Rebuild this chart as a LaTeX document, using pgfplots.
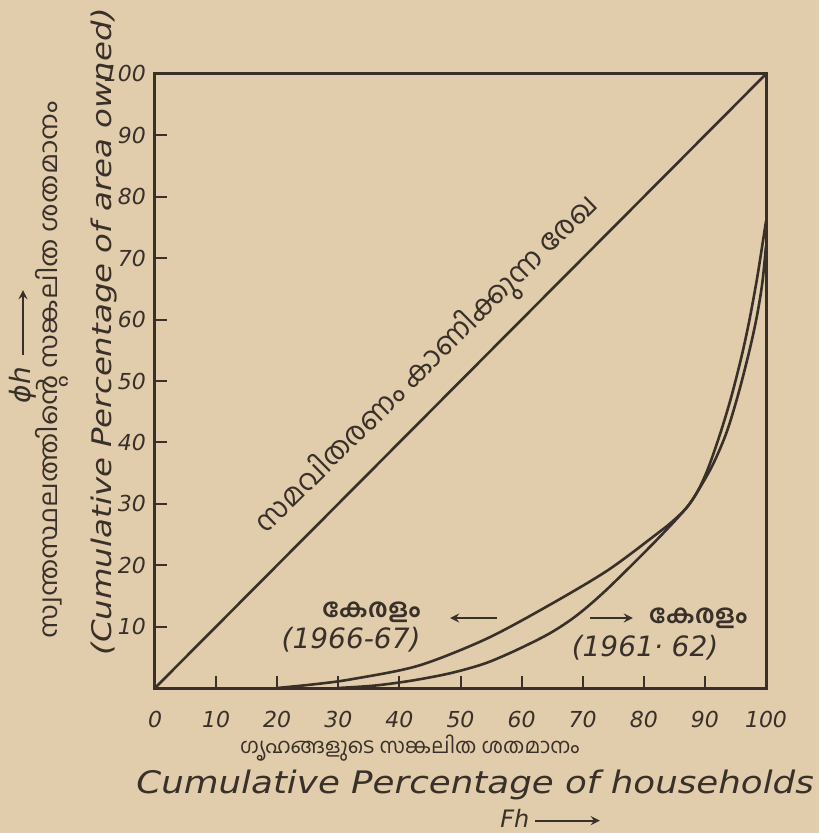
\documentclass[border=0pt]{standalone}
\usepackage{fontspec}
\setmainfont{DejaVu Sans}
\newfontfamily\mal[Script=Malayalam]{Hind Kochi}
\usepackage{graphicx}
\usepackage{pgfplots}
\pgfplotsset{compat=1.18}
\definecolor{paper}{RGB}{225,205,171}
\definecolor{ink}{RGB}{58,48,42}
\begin{document}
\begin{tikzpicture}[x=1pt,y=1pt]
\path[use as bounding box, fill=paper] (-77.5,-72.5) rectangle (332,344);
\begin{axis}[
  at={(0,0)}, anchor=south west,
  scale only axis, width=305.5pt, height=307pt,
  xmin=0, xmax=100, ymin=0, ymax=100,
  axis line style={ink, line width=1.5pt},
  xtick={0,10,...,100}, ytick={10,20,...,100},
  xtick pos=bottom, ytick pos=left,
  tick align=inside, major tick length=6pt,
  tick style={ink, line width=1pt},
  /pgf/number format/assume math mode=true,
  ticklabel style={text=ink, font=\itshape\fontsize{11}{11}\selectfont},
  xticklabel style={yshift=-8pt},
  yticklabel style={xshift=-1pt},
  clip=false,
]
\addplot[ink, line width=1.3pt] coordinates {(0,0) (100,100)};
% 1966-67
\addplot[ink, line width=1.3pt, smooth, tension=0.5] coordinates {
(20,0) (26,0.6) (32,1.4) (43,3.6) (54,7.9) (64,13.2) (74,19.1) (82,25) (85,27.4) (87.5,30)
(91,35.8) (93.5,41.5) (95.5,48) (97.3,55) (98.5,60.5) (99.4,66) (100,72)};
% 1961-62
\addplot[ink, line width=1.3pt, smooth, tension=0.5] coordinates {
(30,0) (36,0.4) (42,1.2) (48.3,2.4) (54,4) (59.2,6.2) (64.6,8.9) (69,11.8) (74,16.1) (82,24) (87.5,30)
(90,34.5) (92.2,40.5) (94.2,47) (96,54) (97.3,60) (98.5,66.5) (99.3,71.5) (100,76)};

\node[rotate=44.6, text=ink, font=\mal\fontsize{14.5}{14.5}\selectfont] at (axis cs:44.6,52.6) {സമവിതരണം കാണിക്കുന്ന രേഖ};

\node[text=ink, font=\mal\bfseries\fontsize{13}{13}\selectfont] at (axis cs:35.4,12.4) {കേരളം};
\node[text=ink, font=\itshape\fontsize{14}{14}\selectfont] at (axis cs:32.1,7.8) {(1966-67)};
\draw[ink, line width=1pt, -stealth] (axis cs:56,11.4) -- (axis cs:48.3,11.4);
\draw[ink, line width=1pt, -stealth] (axis cs:71.2,11.4) -- (axis cs:78.2,11.4);
\node[text=ink, font=\mal\bfseries\fontsize{13}{13}\selectfont] at (axis cs:88.9,11.4) {കേരളം};
\node[text=ink, font=\itshape\fontsize{14}{14}\selectfont] at (axis cs:80.2,6.5) {(1961· 62)};

\node[text=ink, font=\mal\fontsize{10.5}{10.5}\selectfont] at (axis cs:41.7,-9.8) {ഗൃഹങ്ങളുടെ സങ്കലിത ശതമാനം};
\node[text=ink, font=\itshape\fontsize{15.5}{15.5}\selectfont] at (axis cs:52.4,-15.8) {\scalebox{1.15}[1]{Cumulative Percentage of households}};
\node[text=ink, font=\itshape\fontsize{12}{12}\selectfont] at (axis cs:58.9,-21.2) {Fh};
\draw[ink, line width=1pt, -stealth] (axis cs:62.2,-21.6) -- (axis cs:72.8,-21.6);

\node[rotate=90, text=ink, font=\itshape\fontsize{13.5}{13.5}\selectfont] at (axis cs:-8.3,58.0) {\scalebox{1.2}[1]{(Cumulative Percentage of area owned)}};
\node[rotate=90, text=ink, font=\mal\fontsize{12.5}{12.5}\selectfont] at (axis cs:-16.8,51.8) {\scalebox{1.12}[1]{സ്വന്തസ്ഥലത്തിന്റെ സങ്കലിത ശതമാനം}};
\node[rotate=90, text=ink, font=\itshape\fontsize{14}{14}\selectfont] at (axis cs:-21.6,49.3) {ϕh};
\draw[ink, line width=1pt, -stealth] (axis cs:-21.6,54.2) -- (axis cs:-21.6,64.8);
\end{axis}
\end{tikzpicture}
\end{document}
